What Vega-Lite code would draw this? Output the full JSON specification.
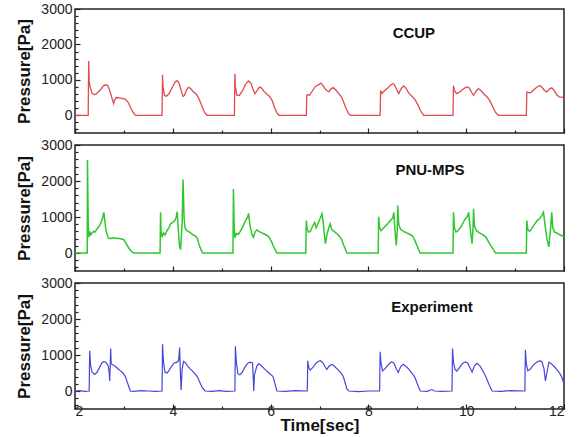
{
  "$schema": "https://vega.github.io/schema/vega-lite/v6.json",
  "background": "white",
  "padding": {"left": 15, "top": 1, "right": 8, "bottom": 0},
  "spacing": 2,
  "config": {
    "font": "Liberation Sans",
    "view": {"stroke": "#222", "strokeWidth": 1.5},
    "axis": {"grid": false, "domain": false, "labelFont": "Liberation Sans", "labelFontSize": 14, "labelColor": "#222", "titleFont": "Liberation Sans", "titleFontSize": 17, "titleFontWeight": "bold", "titleColor": "#111", "tickColor": "#222", "tickWidth": 1.2}
  },
  "datasets": {
    "ccup": [
      {"t":2.0,"p":0},{"t":2.27,"p":0},{"t":2.28,"p":1530},{"t":2.29,"p":950},{"t":2.31,"p":800},{"t":2.35,"p":620},{"t":2.40,"p":580},{"t":2.45,"p":620},{"t":2.52,"p":720},{"t":2.58,"p":830},{"t":2.63,"p":860},{"t":2.67,"p":840},{"t":2.71,"p":700},{"t":2.74,"p":560},{"t":2.77,"p":420},{"t":2.79,"p":330},{"t":2.81,"p":430},{"t":2.84,"p":500},{"t":2.90,"p":490},{"t":2.97,"p":480},{"t":3.03,"p":450},{"t":3.08,"p":380},{"t":3.13,"p":240},{"t":3.18,"p":100},{"t":3.23,"p":5},{"t":3.26,"p":0},{"t":3.78,"p":0},
      {"t":3.79,"p":1140},{"t":3.80,"p":800},{"t":3.83,"p":560},{"t":3.87,"p":540},{"t":3.93,"p":620},{"t":3.99,"p":790},{"t":4.05,"p":950},{"t":4.09,"p":980},{"t":4.13,"p":900},{"t":4.17,"p":700},{"t":4.21,"p":530},{"t":4.24,"p":560},{"t":4.28,"p":720},{"t":4.32,"p":790},{"t":4.36,"p":760},{"t":4.41,"p":680},{"t":4.46,"p":620},{"t":4.50,"p":560},{"t":4.55,"p":420},{"t":4.60,"p":240},{"t":4.65,"p":80},{"t":4.70,"p":0},{"t":5.26,"p":0},
      {"t":5.27,"p":1170},{"t":5.28,"p":800},{"t":5.31,"p":570},{"t":5.36,"p":560},{"t":5.42,"p":680},{"t":5.49,"p":880},{"t":5.55,"p":970},{"t":5.60,"p":900},{"t":5.64,"p":740},{"t":5.68,"p":610},{"t":5.72,"p":690},{"t":5.77,"p":790},{"t":5.81,"p":780},{"t":5.86,"p":680},{"t":5.92,"p":600},{"t":5.98,"p":530},{"t":6.03,"p":420},{"t":6.08,"p":230},{"t":6.13,"p":70},{"t":6.17,"p":0},{"t":6.73,"p":0},
      {"t":6.74,"p":560},{"t":6.76,"p":580},{"t":6.80,"p":570},{"t":6.86,"p":700},{"t":6.92,"p":820},{"t":6.98,"p":860},{"t":7.03,"p":910},{"t":7.05,"p":880},{"t":7.08,"p":820},{"t":7.13,"p":720},{"t":7.19,"p":660},{"t":7.23,"p":740},{"t":7.28,"p":780},{"t":7.33,"p":720},{"t":7.39,"p":620},{"t":7.45,"p":520},{"t":7.50,"p":350},{"t":7.55,"p":170},{"t":7.60,"p":40},{"t":7.63,"p":0},{"t":8.23,"p":0},
      {"t":8.24,"p":0},{"t":8.25,"p":700},{"t":8.28,"p":620},{"t":8.33,"p":690},{"t":8.39,"p":760},{"t":8.45,"p":850},{"t":8.50,"p":890},{"t":8.53,"p":870},{"t":8.58,"p":720},{"t":8.62,"p":610},{"t":8.67,"p":750},{"t":8.72,"p":830},{"t":8.76,"p":780},{"t":8.82,"p":640},{"t":8.88,"p":550},{"t":8.95,"p":450},{"t":9.01,"p":300},{"t":9.07,"p":120},{"t":9.13,"p":0},{"t":9.73,"p":0},
      {"t":9.74,"p":840},{"t":9.76,"p":700},{"t":9.80,"p":610},{"t":9.86,"p":650},{"t":9.92,"p":720},{"t":9.98,"p":780},{"t":10.03,"p":800},{"t":10.07,"p":760},{"t":10.11,"p":650},{"t":10.15,"p":565},{"t":10.20,"p":680},{"t":10.25,"p":750},{"t":10.30,"p":700},{"t":10.36,"p":600},{"t":10.42,"p":530},{"t":10.48,"p":420},{"t":10.54,"p":250},{"t":10.60,"p":80},{"t":10.66,"p":0},{"t":11.23,"p":0},
      {"t":11.24,"p":660},{"t":11.27,"p":640},{"t":11.32,"p":640},{"t":11.38,"p":720},{"t":11.45,"p":800},{"t":11.51,"p":840},{"t":11.55,"p":790},{"t":11.60,"p":700},{"t":11.65,"p":660},{"t":11.70,"p":740},{"t":11.75,"p":775},{"t":11.80,"p":700},{"t":11.85,"p":580},{"t":11.90,"p":520},{"t":11.95,"p":510},{"t":12.0,"p":500}
    ],
    "pnu": [
      {"t":2.0,"p":0},{"t":2.25,"p":0},{"t":2.255,"p":2580},{"t":2.27,"p":900},{"t":2.28,"p":440},{"t":2.30,"p":600},{"t":2.32,"p":500},{"t":2.35,"p":560},{"t":2.38,"p":600},{"t":2.41,"p":580},{"t":2.44,"p":650},{"t":2.47,"p":700},{"t":2.50,"p":760},{"t":2.53,"p":850},{"t":2.56,"p":950},{"t":2.59,"p":1130},{"t":2.61,"p":900},{"t":2.63,"p":650},{"t":2.65,"p":540},{"t":2.68,"p":420},{"t":2.72,"p":400},{"t":2.78,"p":420},{"t":2.84,"p":410},{"t":2.90,"p":400},{"t":2.96,"p":390},{"t":3.00,"p":370},{"t":3.05,"p":250},{"t":3.10,"p":140},{"t":3.15,"p":50},{"t":3.20,"p":0},{"t":3.74,"p":0},
      {"t":3.75,"p":1130},{"t":3.76,"p":600},{"t":3.78,"p":440},{"t":3.81,"p":560},{"t":3.84,"p":500},{"t":3.88,"p":620},{"t":3.92,"p":700},{"t":3.96,"p":820},{"t":4.00,"p":850},{"t":4.04,"p":900},{"t":4.07,"p":1000},{"t":4.09,"p":1150},{"t":4.11,"p":700},{"t":4.14,"p":150},{"t":4.16,"p":120},{"t":4.19,"p":800},{"t":4.21,"p":2040},{"t":4.23,"p":1000},{"t":4.25,"p":700},{"t":4.28,"p":620},{"t":4.32,"p":600},{"t":4.37,"p":550},{"t":4.42,"p":500},{"t":4.47,"p":460},{"t":4.50,"p":420},{"t":4.54,"p":220},{"t":4.58,"p":80},{"t":4.61,"p":0},{"t":5.23,"p":0},
      {"t":5.24,"p":1780},{"t":5.255,"p":700},{"t":5.27,"p":420},{"t":5.30,"p":540},{"t":5.34,"p":520},{"t":5.38,"p":600},{"t":5.42,"p":700},{"t":5.46,"p":820},{"t":5.50,"p":930},{"t":5.53,"p":1000},{"t":5.55,"p":1100},{"t":5.58,"p":750},{"t":5.62,"p":500},{"t":5.65,"p":440},{"t":5.68,"p":580},{"t":5.72,"p":640},{"t":5.76,"p":600},{"t":5.82,"p":560},{"t":5.88,"p":520},{"t":5.94,"p":480},{"t":5.98,"p":420},{"t":6.03,"p":280},{"t":6.08,"p":120},{"t":6.13,"p":0},{"t":6.72,"p":0},
      {"t":6.73,"p":900},{"t":6.75,"p":650},{"t":6.78,"p":580},{"t":6.82,"p":620},{"t":6.86,"p":750},{"t":6.90,"p":850},{"t":6.93,"p":700},{"t":6.97,"p":820},{"t":7.01,"p":950},{"t":7.05,"p":1090},{"t":7.08,"p":800},{"t":7.10,"p":500},{"t":7.12,"p":260},{"t":7.15,"p":500},{"t":7.19,"p":700},{"t":7.22,"p":810},{"t":7.25,"p":650},{"t":7.30,"p":600},{"t":7.35,"p":540},{"t":7.40,"p":480},{"t":7.45,"p":380},{"t":7.50,"p":200},{"t":7.56,"p":0},{"t":8.20,"p":0},
      {"t":8.21,"p":1010},{"t":8.23,"p":700},{"t":8.26,"p":620},{"t":8.30,"p":680},{"t":8.35,"p":750},{"t":8.40,"p":820},{"t":8.45,"p":900},{"t":8.50,"p":980},{"t":8.52,"p":1130},{"t":8.54,"p":700},{"t":8.57,"p":210},{"t":8.59,"p":600},{"t":8.60,"p":1320},{"t":8.62,"p":800},{"t":8.66,"p":650},{"t":8.72,"p":600},{"t":8.78,"p":560},{"t":8.84,"p":520},{"t":8.90,"p":480},{"t":8.95,"p":350},{"t":9.00,"p":180},{"t":9.06,"p":0},{"t":9.73,"p":0},
      {"t":9.74,"p":1130},{"t":9.76,"p":700},{"t":9.79,"p":580},{"t":9.83,"p":620},{"t":9.88,"p":700},{"t":9.93,"p":820},{"t":9.98,"p":950},{"t":10.02,"p":1000},{"t":10.05,"p":1130},{"t":10.08,"p":700},{"t":10.12,"p":260},{"t":10.14,"p":700},{"t":10.15,"p":1230},{"t":10.17,"p":750},{"t":10.21,"p":620},{"t":10.27,"p":560},{"t":10.33,"p":520},{"t":10.40,"p":450},{"t":10.46,"p":300},{"t":10.53,"p":150},{"t":10.60,"p":0},{"t":11.23,"p":0},
      {"t":11.24,"p":900},{"t":11.26,"p":650},{"t":11.30,"p":600},{"t":11.35,"p":700},{"t":11.40,"p":800},{"t":11.45,"p":900},{"t":11.50,"p":950},{"t":11.55,"p":1050},{"t":11.58,"p":1130},{"t":11.61,"p":800},{"t":11.65,"p":400},{"t":11.69,"p":170},{"t":11.72,"p":600},{"t":11.75,"p":1130},{"t":11.77,"p":700},{"t":11.81,"p":580},{"t":11.86,"p":550},{"t":11.92,"p":500},{"t":11.96,"p":480},{"t":12.0,"p":460}
    ],
    "exp": [
      {"t":2.0,"p":0},{"t":2.10,"p":10},{"t":2.20,"p":-10},{"t":2.29,"p":0},{"t":2.30,"p":1120},{"t":2.32,"p":700},{"t":2.35,"p":520},{"t":2.40,"p":460},{"t":2.45,"p":520},{"t":2.50,"p":650},{"t":2.55,"p":780},{"t":2.59,"p":820},{"t":2.63,"p":800},{"t":2.68,"p":700},{"t":2.70,"p":500},{"t":2.71,"p":280},{"t":2.72,"p":700},{"t":2.73,"p":1180},{"t":2.74,"p":750},{"t":2.78,"p":720},{"t":2.83,"p":680},{"t":2.88,"p":620},{"t":2.93,"p":560},{"t":2.98,"p":500},{"t":3.03,"p":400},{"t":3.08,"p":200},{"t":3.13,"p":0},{"t":3.20,"p":-10},{"t":3.35,"p":10},{"t":3.50,"p":0},{"t":3.65,"p":-10},{"t":3.78,"p":0},
      {"t":3.79,"p":1300},{"t":3.81,"p":800},{"t":3.84,"p":520},{"t":3.88,"p":500},{"t":3.93,"p":580},{"t":3.98,"p":700},{"t":4.03,"p":780},{"t":4.09,"p":800},{"t":4.12,"p":850},{"t":4.14,"p":1210},{"t":4.155,"p":500},{"t":4.17,"p":30},{"t":4.19,"p":600},{"t":4.22,"p":820},{"t":4.25,"p":800},{"t":4.30,"p":700},{"t":4.35,"p":620},{"t":4.40,"p":560},{"t":4.45,"p":480},{"t":4.50,"p":400},{"t":4.55,"p":250},{"t":4.60,"p":100},{"t":4.66,"p":0},{"t":4.80,"p":-10},{"t":4.95,"p":10},{"t":5.10,"p":-10},{"t":5.27,"p":0},
      {"t":5.28,"p":1240},{"t":5.30,"p":800},{"t":5.33,"p":480},{"t":5.37,"p":450},{"t":5.42,"p":520},{"t":5.48,"p":680},{"t":5.54,"p":780},{"t":5.59,"p":800},{"t":5.63,"p":780},{"t":5.645,"p":400},{"t":5.655,"p":0},{"t":5.67,"p":450},{"t":5.72,"p":700},{"t":5.76,"p":760},{"t":5.81,"p":700},{"t":5.87,"p":620},{"t":5.93,"p":540},{"t":5.99,"p":470},{"t":6.05,"p":400},{"t":6.09,"p":200},{"t":6.13,"p":0},{"t":6.30,"p":-10},{"t":6.50,"p":10},{"t":6.75,"p":0},
      {"t":6.76,"p":840},{"t":6.78,"p":650},{"t":6.81,"p":580},{"t":6.86,"p":650},{"t":6.92,"p":760},{"t":6.97,"p":820},{"t":7.02,"p":840},{"t":7.07,"p":780},{"t":7.12,"p":660},{"t":7.15,"p":600},{"t":7.20,"p":700},{"t":7.26,"p":740},{"t":7.31,"p":680},{"t":7.37,"p":600},{"t":7.43,"p":520},{"t":7.48,"p":420},{"t":7.52,"p":250},{"t":7.56,"p":60},{"t":7.60,"p":0},{"t":7.80,"p":-20},{"t":8.00,"p":0},{"t":8.23,"p":0},
      {"t":8.24,"p":1090},{"t":8.26,"p":750},{"t":8.29,"p":560},{"t":8.34,"p":620},{"t":8.40,"p":720},{"t":8.45,"p":790},{"t":8.48,"p":810},{"t":8.52,"p":780},{"t":8.57,"p":620},{"t":8.61,"p":510},{"t":8.66,"p":680},{"t":8.71,"p":740},{"t":8.77,"p":680},{"t":8.83,"p":600},{"t":8.89,"p":500},{"t":8.95,"p":380},{"t":9.00,"p":200},{"t":9.06,"p":0},{"t":9.20,"p":-10},{"t":9.30,"p":40},{"t":9.35,"p":0},{"t":9.50,"p":-10},{"t":9.71,"p":0},
      {"t":9.72,"p":1180},{"t":9.74,"p":800},{"t":9.77,"p":600},{"t":9.81,"p":550},{"t":9.86,"p":640},{"t":9.92,"p":760},{"t":9.98,"p":810},{"t":10.03,"p":780},{"t":10.08,"p":640},{"t":10.12,"p":530},{"t":10.17,"p":700},{"t":10.22,"p":770},{"t":10.28,"p":700},{"t":10.34,"p":560},{"t":10.40,"p":400},{"t":10.46,"p":200},{"t":10.53,"p":0},{"t":10.70,"p":-10},{"t":10.90,"p":10},{"t":11.20,"p":0},
      {"t":11.21,"p":1145},{"t":11.23,"p":750},{"t":11.26,"p":560},{"t":11.31,"p":600},{"t":11.37,"p":720},{"t":11.44,"p":800},{"t":11.51,"p":840},{"t":11.55,"p":800},{"t":11.59,"p":620},{"t":11.62,"p":280},{"t":11.65,"p":500},{"t":11.69,"p":800},{"t":11.74,"p":760},{"t":11.80,"p":680},{"t":11.85,"p":600},{"t":11.90,"p":520},{"t":11.95,"p":400},{"t":12.0,"p":200}
    ]
  },
  "vconcat": [
    {
      "width": 489, "height": 124,
      "resolve": {"axis": {"y": "independent"}},
      "layer": [
        {
          "data": {"name": "ccup"},
          "mark": {"type": "line", "color": "#e04a4f", "strokeWidth": 1.3, "clip": true},
          "encoding": {
            "x": {"field": "t", "type": "quantitative", "scale": {"domain": [2, 12], "nice": false, "zero": false},
                  "axis": {"title": null, "labels": false, "labelPadding": 0, "values": [2,2.5,3,3.5,4,4.5,5,5.5,6,6.5,7,7.5,8,8.5,9,9.5,10,10.5,11,11.5,12], "tickSize": {"condition": {"test": "datum.value % 2 === 0", "value": -5}, "value": -3}}},
            "y": {"field": "p", "type": "quantitative", "scale": {"domain": [-500, 3000], "nice": false, "zero": false},
                  "axis": {"title": "Pressure[Pa]", "titlePadding": 7, "format": "d", "labelPadding": 8, "values": [0, 1000, 2000, 3000], "tickSize": -5}}
          }
        },
        {
          "data": {"values": [{"label": "CCUP"}]},
          "mark": {"type": "text", "fontSize": 15, "fontWeight": "bold", "font": "Liberation Sans", "color": "#111"},
          "encoding": {"x": {"datum": 8.93}, "y": {"datum": 2330, "type": "quantitative", "axis": {"orient": "left", "title": null, "labels": false, "values": [-400,-200,200,400,600,800,1200,1400,1600,1800,2200,2400,2600,2800], "tickSize": -3}}, "text": {"field": "label"}}
        }
      ]
    },
    {
      "width": 489, "height": 126,
      "resolve": {"axis": {"y": "independent"}},
      "layer": [
        {
          "data": {"name": "pnu"},
          "mark": {"type": "line", "color": "#2ec82e", "strokeWidth": 1.5, "clip": true},
          "encoding": {
            "x": {"field": "t", "type": "quantitative", "scale": {"domain": [2, 12], "nice": false, "zero": false},
                  "axis": {"title": null, "labels": false, "labelPadding": 0, "values": [2,2.5,3,3.5,4,4.5,5,5.5,6,6.5,7,7.5,8,8.5,9,9.5,10,10.5,11,11.5,12], "tickSize": {"condition": {"test": "datum.value % 2 === 0", "value": -5}, "value": -3}}},
            "y": {"field": "p", "type": "quantitative", "scale": {"domain": [-500, 3000], "nice": false, "zero": false},
                  "axis": {"title": "Pressure[Pa]", "titlePadding": 7, "format": "d", "labelPadding": 8, "values": [0, 1000, 2000, 3000], "tickSize": -5}}
          }
        },
        {
          "data": {"values": [{"label": "PNU-MPS"}]},
          "mark": {"type": "text", "fontSize": 15, "fontWeight": "bold", "font": "Liberation Sans", "color": "#111"},
          "encoding": {"x": {"datum": 9.26}, "y": {"datum": 2310, "type": "quantitative", "axis": {"orient": "left", "title": null, "labels": false, "values": [-400,-200,200,400,600,800,1200,1400,1600,1800,2200,2400,2600,2800], "tickSize": -3}}, "text": {"field": "label"}}
        }
      ]
    },
    {
      "width": 489, "height": 126,
      "resolve": {"axis": {"y": "independent"}},
      "layer": [
        {
          "data": {"name": "exp"},
          "mark": {"type": "line", "color": "#4646dc", "strokeWidth": 1.2, "clip": true},
          "encoding": {
            "x": {"field": "t", "type": "quantitative", "scale": {"domain": [2, 12], "nice": false, "zero": false},
                  "axis": {"title": "Time[sec]", "titlePadding": -1, "format": "d", "values": [2,2.5,3,3.5,4,4.5,5,5.5,6,6.5,7,7.5,8,8.5,9,9.5,10,10.5,11,11.5,12], "labelExpr": "datum.value % 2 === 0 ? datum.label : ''", "labelPadding": 0, "tickSize": {"condition": {"test": "datum.value % 2 === 0", "value": -5}, "value": -3}}},
            "y": {"field": "p", "type": "quantitative", "scale": {"domain": [-500, 3000], "nice": false, "zero": false},
                  "axis": {"title": "Pressure[Pa]", "titlePadding": 7, "format": "d", "labelPadding": 8, "values": [0, 1000, 2000, 3000], "tickSize": -5}}
          }
        },
        {
          "data": {"values": [{"label": "Experiment"}]},
          "mark": {"type": "text", "fontSize": 15, "fontWeight": "bold", "font": "Liberation Sans", "color": "#111"},
          "encoding": {"x": {"datum": 9.3}, "y": {"datum": 2330, "type": "quantitative", "axis": {"orient": "left", "title": null, "labels": false, "values": [-400,-200,200,400,600,800,1200,1400,1600,1800,2200,2400,2600,2800], "tickSize": -3}}, "text": {"field": "label"}}
        }
      ]
    }
  ]
}
